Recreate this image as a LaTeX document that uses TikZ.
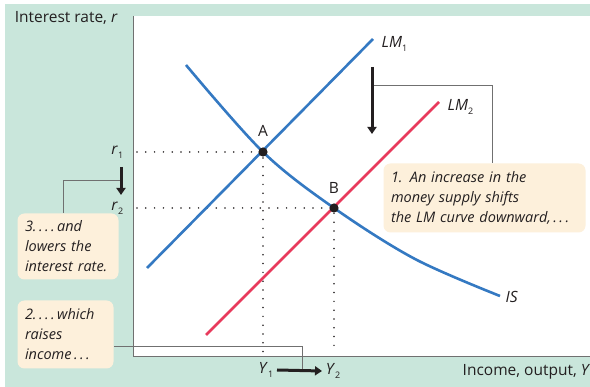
\documentclass[tikz,border=0pt]{standalone}
\usepackage{fontspec}
\setmainfont{Open Sans}
\usetikzlibrary{arrows.meta}
\definecolor{ink}{HTML}{231F20}
\definecolor{frame}{HTML}{707070}
\definecolor{mint}{HTML}{C9E6DB}
\definecolor{cream}{HTML}{FDF0DB}
\definecolor{lmblue}{HTML}{3479C2}
\definecolor{lmred}{HTML}{E83A5C}

\begin{document}
\begin{tikzpicture}[x=1pt, y=-1pt,
    line width=1pt, color=ink,
    curve/.style={line width=2.6pt},
    guide/.style={ink, line width=1.7pt, dash pattern=on 0pt off 8.8pt, line cap=round},
    leader/.style={draw=frame, line width=0.8pt},
    movearrow/.style={-{Triangle[length=7pt,width=9pt]}, line width=3pt, ink},
    note/.style={fill=cream, rounded corners=7pt, anchor=north west, align=left,
                 font=\fontsize{14.5}{20}\selectfont\itshape, text=ink,
                 inner xsep=7.5pt, inner ysep=3pt},
    lab/.style={font=\fontsize{15.5}{18}\selectfont, text=ink}]
  % fixed 590 x 387 canvas, y runs downward
  \path[use as bounding box] (0,0) rectangle (590,387);

  % ================= panel =================
  \fill[mint] (5,4) rectangle (590,387);
  \fill[white] (133,16) rectangle (590,356);
  \draw[frame, line width=0.9pt] (133,16) -- (133,356) -- (590,356);
  \node[lab, anchor=west] (ylab) at (11,18) {Interest rate, \textit{r}};
  \node[lab, anchor=east] (xlab) at (594,372) {Income, output, \textit{Y}};

  % ================= equilibria =================
  \coordinate (A) at (263,152);
  \coordinate (B) at (334,208);
  \draw[guide] (137,152) -- (A) -- (263,354);
  \draw[guide] (137,208) -- (B) -- (334,354);

  % ================= curves =================
  \draw[curve, lmblue] (147,268) -- (373,39)
    node[lab, anchor=west, xshift=4pt, yshift=-5pt] (lm1) {\textit{LM}\raisebox{-4pt}{\small 1}};
  \draw[curve, lmred] (206,335) -- (439,102)
    node[lab, anchor=west, xshift=4pt, yshift=-5pt] (lm2) {\textit{LM}\raisebox{-4pt}{\small 2}};
  \draw[curve, lmblue] plot[smooth, tension=0.55] coordinates
    {(186,65) (263,152) (334,208) (415,259) (500,296)}
    node[lab, anchor=west, xshift=1pt, yshift=-1pt] (is) {\textit{IS}};
  \fill (A) circle (4.6);
  \fill (B) circle (4.6);
  \node[lab] (alab) at (263,131) {A};
  \node[lab] (blab) at (334,188) {B};

  % ================= axis values =================
  \node[lab, anchor=east] (r1) at (127,152) {\textit{r}\raisebox{-4pt}{\small 1}};
  \node[lab, anchor=east] (r2) at (127,208) {\textit{r}\raisebox{-4pt}{\small 2}};
  \node[lab, anchor=east] (y1) at (277,370) {\textit{Y}\raisebox{-4pt}{\small 1}};
  \node[lab, anchor=west] (y2) at (322,371) {\textit{Y}\raisebox{-4pt}{\small 2}};

  % ================= notes =================
  \node[note, text width=187pt, minimum height=69pt] (box1) at (383,163)
    {1. An increase in the\\money supply shifts\\the LM curve downward,\,.\,.\,.};
  \node[note, text width=86pt, minimum height=66pt] (box3) at (17,213)
    {3.\,.\,.\,.\,and\\lowers the\\interest rate.};
  \node[note, text width=81pt, minimum height=68pt] (box2) at (17,300)
    {2.\,.\,.\,.\,which\\raises\\income\,.\,.\,.};

  % ================= leaders and shift arrows =================
  \coordinate (lmtick) at (372,85);
  \coordinate (rtick) at (121,180);
  \coordinate (ytick) at (302,369);
  \draw[leader] ([xshift=8pt]box1.north) |- (lmtick);
  \draw[leader] ([xshift=-5pt]box3.north) |- (rtick);
  \draw[leader] ([yshift=-12pt]box2.east) -| (ytick);
  \draw[movearrow] (372,67) -- (372,134);
  \draw[movearrow] (121,167) -- (121,195);
  \draw[movearrow] (y1.east) -- (y2.west);
\end{tikzpicture}
\end{document}
